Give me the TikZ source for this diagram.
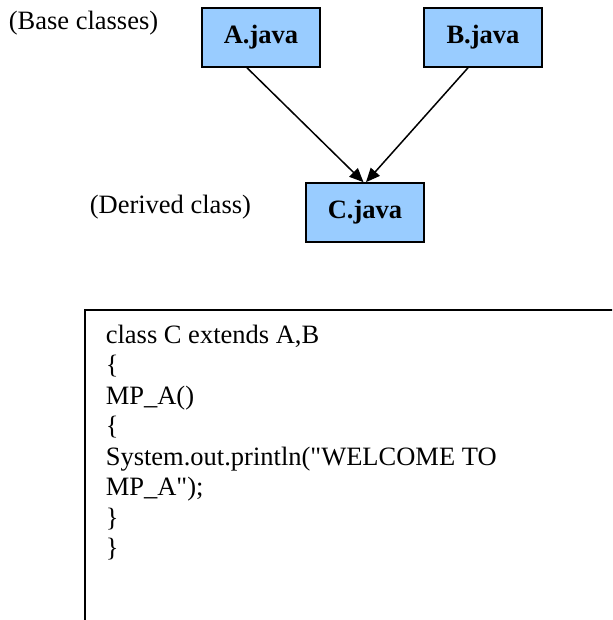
\documentclass[tikz,border=0pt]{standalone}
\usepackage{fontspec}
\setmainfont{Liberation Serif}[Ligatures=TeXOff]
\usetikzlibrary{arrows.meta, positioning}
\definecolor{cboxblue}{HTML}{99CCFF}
\newcommand{\bigtext}{\fontsize{26.5}{30.5}\selectfont}
\tikzset{
  every picture/.style={line width=1.6pt},
  classbox/.style={draw=black, fill=cboxblue, minimum width=118pt, minimum height=59pt, inner sep=0pt, font=\bigtext\bfseries},
  inherit/.style={-{Triangle[length=14pt, width=12pt]}, draw=black, line width=1.5pt},
  label/.style={anchor=base west, inner sep=0pt, font=\bigtext},
}

\begin{document}
\begin{tikzpicture}[x=1pt, y=-1pt,
                    cl/.style={anchor=base west, inner sep=0pt, font=\bigtext}]
  \clip (0,0) rectangle (612,620);
  % class boxes
  \node[classbox] (A) at (261,37.5) {A.java};
  \node[classbox] (B) at (483,37.5) {B.java};
  \node[classbox] (C) at (365,212.5) {C.java};
  \node[label] (base) at (8,29.5) {(Base classes)};
  \node[label] (derived) at (89,213.3) {(Derived class)};
  \draw[inherit] ([xshift=-14pt]A.south) -- ([xshift=-1.5pt]C.north);
  \draw[inherit] ([xshift=-15pt]B.south) -- ([xshift=1pt]C.north);
  % code listing
  \node[draw=black, line width=2pt, anchor=north west, minimum width=600pt, minimum height=400pt] (code) at (84,309) {};
  \node[cl] (l1) at (105,343) {class C extends A,B};
  \node[cl] (l2) at (105,373.5) {\{};
  \node[cl] (l3) at (105,404) {MP\_A()};
  \node[cl] (l4) at (105,434.5) {\{};
  \node[cl] (l5) at (105,465) {System.out.println("WELCOME TO};
  \node[cl] (l6) at (105,495.5) {MP\_A");};
  \node[cl] (l7) at (105,526) {\}};
  \node[cl] (l8) at (105,556.5) {\}};
\end{tikzpicture}
\end{document}
